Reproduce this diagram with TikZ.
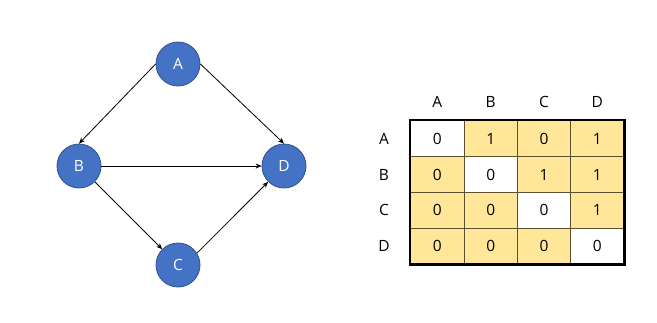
\documentclass[tikz,border=0pt]{standalone}
\usepackage{fontspec}
\setmainfont{Open Sans}
\usetikzlibrary{arrows.meta}
\definecolor{nodeblue}{HTML}{4472C4}
\definecolor{nodeedge}{HTML}{2F528F}
\definecolor{cellyellow}{HTML}{FFE699}
\definecolor{gridline}{HTML}{5A5030}
\begin{document}
\begin{tikzpicture}[x=1pt,y=-1pt,
  vertex/.style={circle,fill=nodeblue,draw=nodeedge,line width=0.8pt,minimum size=44pt,inner sep=0pt,text=white,font=\fontsize{15.5}{18}\selectfont},
  edge/.style={-{Stealth[length=6pt,width=5pt]},line width=0.8pt,black},
  lbl/.style={font=\fontsize{15.5}{18}\selectfont,inner sep=0pt},
  cell/.style={minimum width=53.3pt,minimum height=35.8pt,inner sep=0pt,draw=gridline,line width=0.9pt,font=\fontsize{15.5}{18}\selectfont},
  yel/.style={cell,fill=cellyellow},
  wht/.style={cell,fill=white}]
\useasboundingbox (0,0) rectangle (657,322);
\node[vertex] (A) at (178,64) {A};
\node[vertex] (B) at (79,166) {B};
\node[vertex] (C) at (178,265) {C};
\node[vertex] (D) at (284,166) {D};
\draw[edge] (A.west) -- (B.north);
\draw[edge] (A.east) -- (D.north);
\draw[edge] (B.east) -- (D.west);
\draw[edge] (B.south east) -- (C.north west);
\draw[edge] (C.32) -- (D.south west);
% column headers
\node[lbl] (hA) at (437.3,102) {A};
\node[lbl] (hB) at (490.7,102) {B};
\node[lbl] (hC) at (544.0,102) {C};
\node[lbl] (hD) at (597.3,102) {D};
% row headers
\node[lbl] (rA) at (384,138.6) {A};
\node[lbl] (rB) at (384,174.5) {B};
\node[lbl] (rC) at (384,210.3) {C};
\node[lbl] (rD) at (384,246.1) {D};
% cells
\node[wht] (c11) at (437.3,138.6) {0};
\node[yel] (c12) at (490.7,138.6) {1};
\node[yel] (c13) at (544.0,138.6) {0};
\node[yel] (c14) at (597.3,138.6) {1};
\node[yel] (c21) at (437.3,174.5) {0};
\node[wht] (c22) at (490.7,174.5) {0};
\node[yel] (c23) at (544.0,174.5) {1};
\node[yel] (c24) at (597.3,174.5) {1};
\node[yel] (c31) at (437.3,210.3) {0};
\node[yel] (c32) at (490.7,210.3) {0};
\node[wht] (c33) at (544.0,210.3) {0};
\node[yel] (c34) at (597.3,210.3) {1};
\node[yel] (c41) at (437.3,246.1) {0};
\node[yel] (c42) at (490.7,246.1) {0};
\node[yel] (c43) at (544.0,246.1) {0};
\node[wht] (c44) at (597.3,246.1) {0};
\draw[line width=2.2pt,black] (c11.north west) rectangle (c44.south east);
\end{tikzpicture}
\end{document}
